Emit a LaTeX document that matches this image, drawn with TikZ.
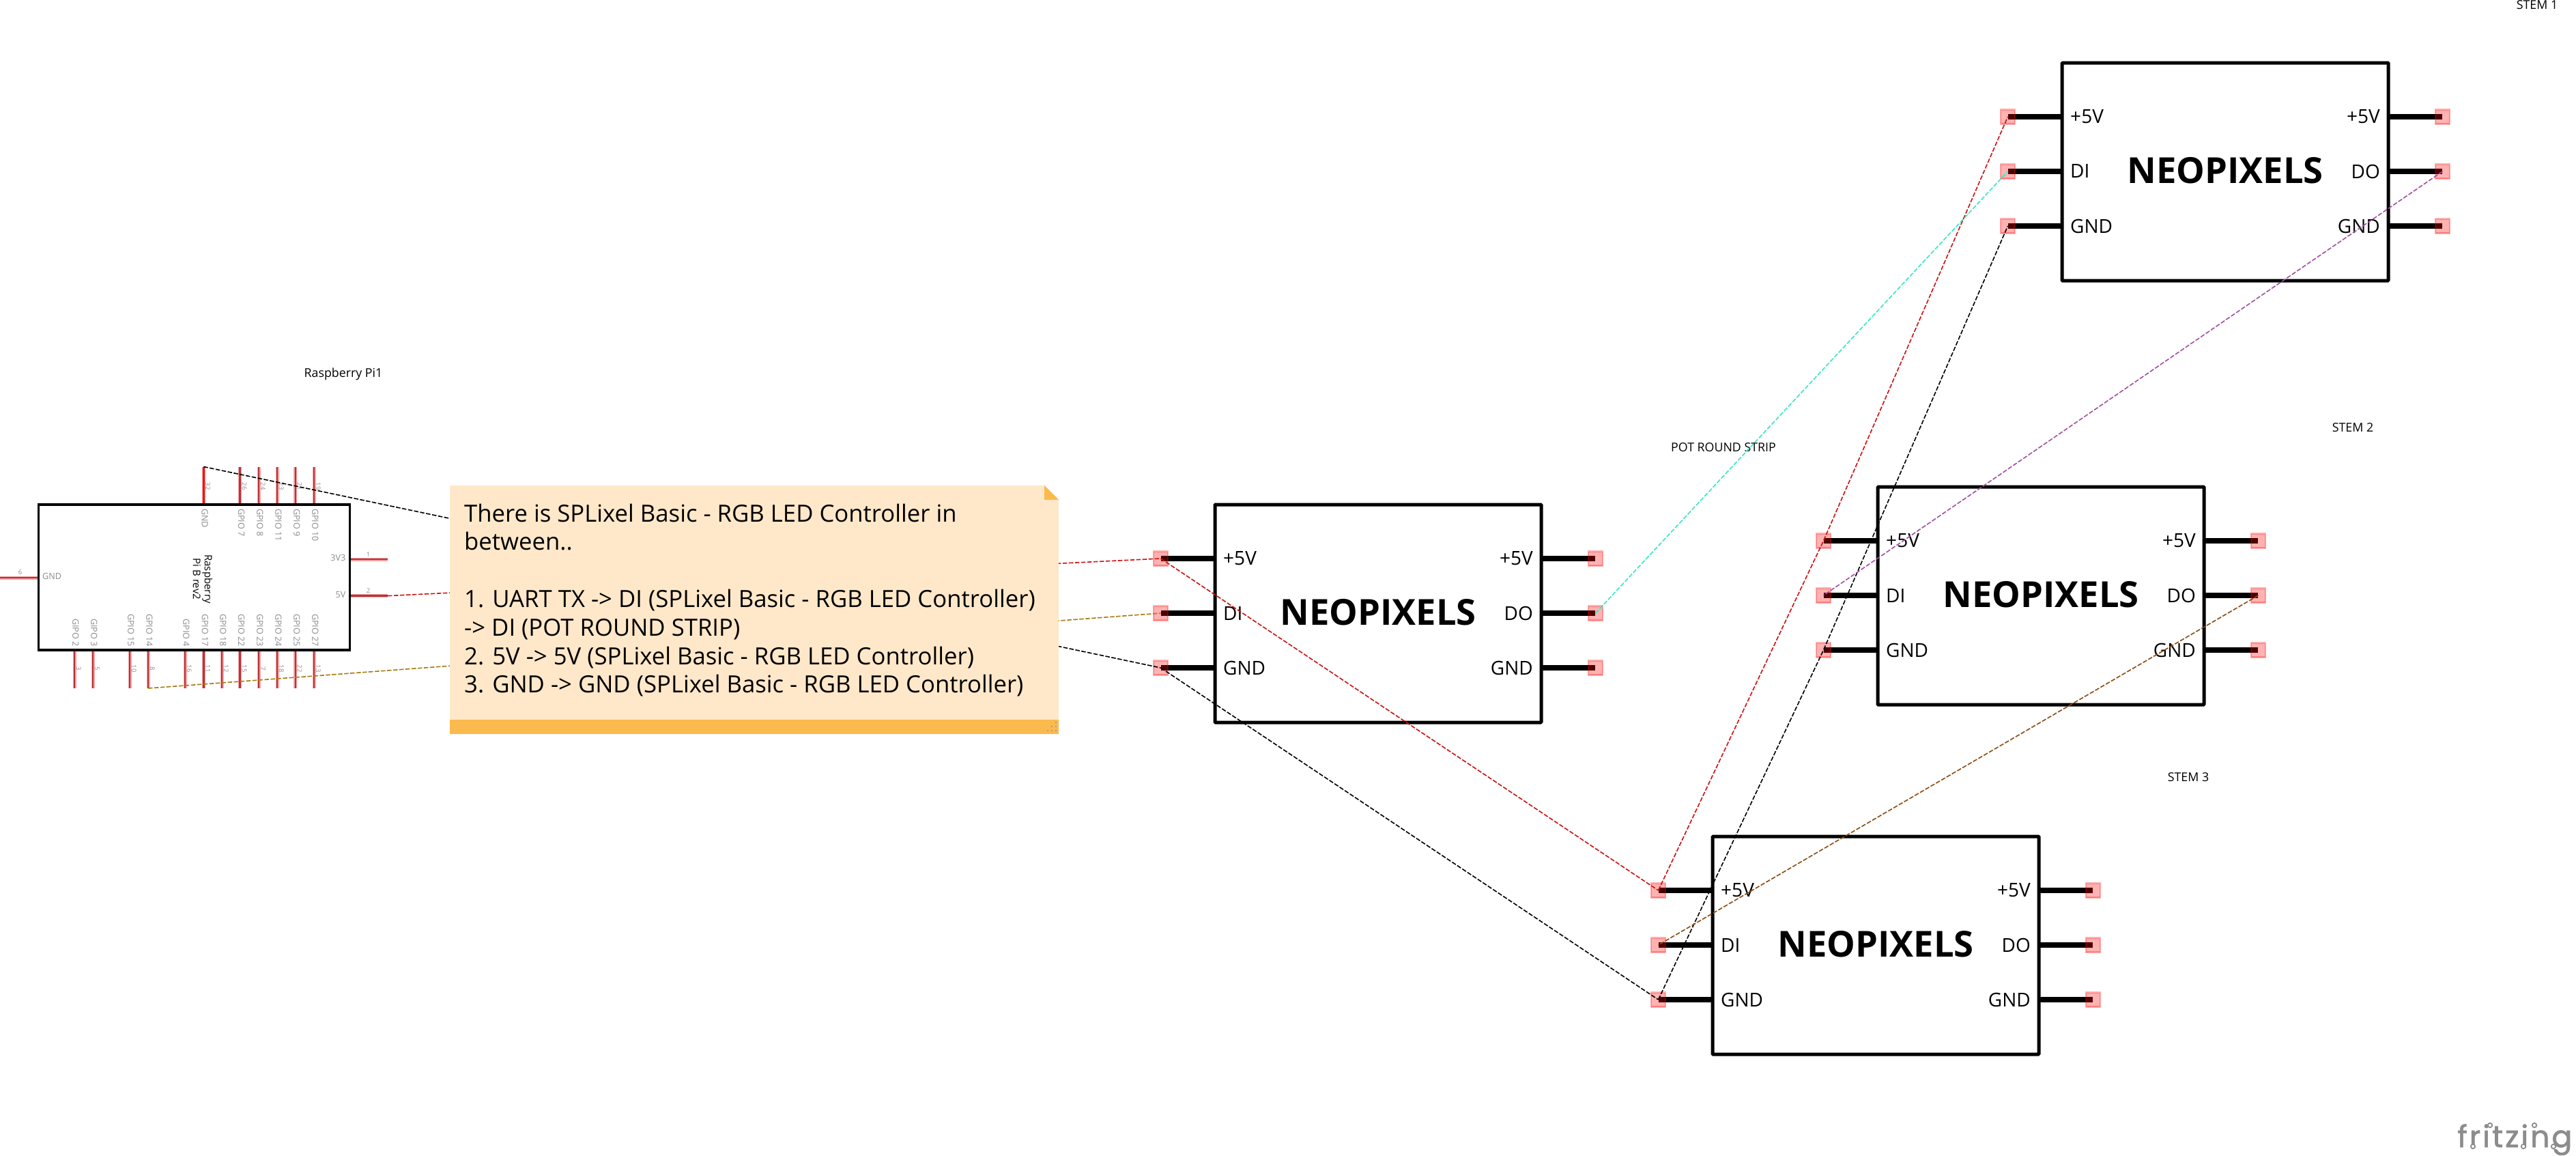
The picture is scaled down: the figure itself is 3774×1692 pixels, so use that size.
\documentclass[tikz,border=0pt]{standalone}
\usepackage{fontspec}
\setmainfont{Open Sans}
\newfontfamily\logofont[LetterSpace=7,FakeBold=1.6]{Poppins}
\definecolor{paddraw}{HTML}{FF0000}
\definecolor{pinhalo}{HTML}{F5A3A3}
\definecolor{pincore}{HTML}{B5343A}
\definecolor{pinred}{HTML}{F01414}
\definecolor{pilabel}{HTML}{8C8C8C}
\definecolor{notefill}{HTML}{FFE8C9}
\definecolor{notebar}{HTML}{FBBA4E}
\definecolor{wirered}{HTML}{CC1111}
\definecolor{wiregold}{HTML}{A67A10}
\definecolor{wirecyan}{HTML}{35E8C4}
\definecolor{wirepurple}{HTML}{A050A0}
\definecolor{wirebrown}{HTML}{8A4A10}
\tikzset{
  x=1pt,y=-1pt,
  padbox/.style={draw=paddraw,draw opacity=.3,fill=paddraw,fill opacity=.3,line width=2.4pt,minimum size=21pt,inner sep=0pt,outer sep=0pt},
  neobox/.style={draw=black,line width=5pt,rounded corners=1pt,minimum width=478pt,minimum height=319pt,inner sep=0pt,outer sep=0pt,anchor=north west},
  neopin/.style={line width=8.5pt,black},
  neotitle/.style={font=\fontsize{52.5}{60}\selectfont\bfseries,inner sep=0pt},
  neolabel/.style={font=\fontsize{28}{32}\selectfont,inner sep=0pt},
  halo/.style={line width=5pt,pinhalo},
  core/.style={line width=2.6pt,pincore},
  gpiolabel/.style={font=\fontsize{12.6}{14}\selectfont,text=pilabel,inner sep=0pt,rotate=-90},
  pinnum/.style={font=\fontsize{9.5}{11}\selectfont,text=pilabel,inner sep=0pt},
  caption/.style={font=\fontsize{17.8}{20}\selectfont,inner sep=0pt},
  wire/.style={line width=1.6pt,dash pattern=on 6.5pt off 2.5pt},
  logodot/.style={draw=pilabel,fill=white,line width=1.8pt},
}
\newcommand{\neoblock}[3]{%
  \draw[neopin] ({#2},{#3+79}) -- ({#2-79},{#3+79});
  \draw[neopin] ({#2},{#3+159}) -- ({#2-79},{#3+159});
  \draw[neopin] ({#2},{#3+239}) -- ({#2-79},{#3+239});
  \draw[neopin] ({#2+478},{#3+79}) -- ({#2+557},{#3+79});
  \draw[neopin] ({#2+478},{#3+159}) -- ({#2+557},{#3+159});
  \draw[neopin] ({#2+478},{#3+239}) -- ({#2+557},{#3+239});
  \node[neobox,fill=white] (#1box) at ({#2},{#3}) {};
  \node[padbox] (#1vl) at ({#2-79-0.5},{#3+79}) {};
  \node[padbox] (#1il) at ({#2-79-0.5},{#3+159}) {};
  \node[padbox] (#1gl) at ({#2-79-0.5},{#3+239}) {};
  \node[padbox] (#1vr) at ({#2+557+0.5},{#3+79}) {};
  \node[padbox] (#1ir) at ({#2+557+0.5},{#3+159}) {};
  \node[padbox] (#1gr) at ({#2+557+0.5},{#3+239}) {};
  \node[neotitle] (#1title) at ({#2+239},{#3+158}) {NEOPIXELS};
  \node[neolabel,anchor=west] (#1a) at ({#2+12},{#3+79}) {+5V};
  \node[neolabel,anchor=west] (#1b) at ({#2+12},{#3+159}) {DI};
  \node[neolabel,anchor=west] (#1c) at ({#2+12},{#3+239}) {GND};
  \node[neolabel,anchor=east] (#1d) at ({#2+466},{#3+79}) {+5V};
  \node[neolabel,anchor=east] (#1e) at ({#2+466},{#3+159}) {DO};
  \node[neolabel,anchor=east] (#1f) at ({#2+466},{#3+239}) {GND};
}
\begin{document}
\begin{tikzpicture}
\useasboundingbox (0,0) rectangle (3774,1692);
\fill[white] (0,0) rectangle (3774,1692);

% Raspberry Pi
\node[draw=black,line width=3.5pt,minimum width=456pt,minimum height=213pt,inner sep=0pt,outer sep=0pt,anchor=north west] (pi) at (56.5,739) {};
\node[rotate=-90,align=center,inner sep=0pt,font=\fontsize{15}{17}\selectfont] (pititle) at (297,848) {Raspberry\\Pi B rev2};
\coordinate (pgnd) at (298.3,683.5);
\draw[line width=5pt,pinhalo] (pgnd) -- (298.3,737);
\draw[line width=2.6pt,pinred] (pgnd) -- (298.3,737);
\node[pinnum,rotate=-90] (n32) at (304.5,712) {32};
\node[gpiolabel,anchor=west] (lgnd) at (300,745) {GND};
\foreach \px/\lab/\nm in {351.7/GPIO 7/26,379/GPIO 8/24,406/GPIO 11/23,432.8/GPIO 9/21,460/GPIO 10/19}{
  \draw[halo] (\px,683.5) -- (\px,737);
  \draw[core] (\px,683.5) -- (\px,737);
  \node[pinnum,rotate=-90] (nt\nm) at (\px+6.2,712) {\nm};
  \node[gpiolabel,anchor=west] (lt\nm) at (\px+2,745) {\lab};
}
\foreach \px/\lab/\nm in {109/GIPO 2/3,136/GIPO 3/5,190/GPIO 15/10,217/GPIO 14/8,271/GPIO 4/16,298.3/GPIO 17/11,325/GPIO 18/12,351.7/GPIO 22/15,379/GPIO 23/7,406/GPIO 24/18,432.8/GPIO 25/22,460/GPIO 27/13}{
  \draw[halo] (\px,954) -- (\px,1008);
  \draw[core] (\px,954) -- (\px,1008);
  \node[pinnum,rotate=-90] (nb\nm) at (\px+6.2,979) {\nm};
  \node[gpiolabel,anchor=east] (lb\nm) at (\px+2,947) {\lab};
}
\coordinate (p14) at (217,1008);
\draw[halo] (0,846) -- (55,846);
\draw[core] (0,846) -- (55,846);
\node[pinnum] (n6) at (29.5,838.5) {6};
\node[font=\fontsize{12.6}{14}\selectfont,text=pilabel,inner sep=0pt,anchor=west] (lg6) at (62,844) {GND};
\draw[halo] (514,819) -- (568,819);
\draw[core] (514,819) -- (568,819);
\node[pinnum] (n1) at (539.5,811.6) {1};
\node[font=\fontsize{12.6}{14}\selectfont,text=pilabel,inner sep=0pt,anchor=east] (l3v3) at (506.5,817) {3V3};
\coordinate (p5v) at (568,872.6);
\draw[halo] (514,872.6) -- (p5v);
\draw[core] (514,872.6) -- (p5v);
\node[pinnum] (n2) at (539.5,865) {2};
\node[font=\fontsize{12.6}{14}\selectfont,text=pilabel,inner sep=0pt,anchor=east] (l5v) at (506.5,871) {5V};
\node[caption] (capPi) at (503,548) {Raspberry Pi1};

% NeoPixel blocks
\neoblock{a}{1780}{739}
\neoblock{b}{3021}{92}
\neoblock{c}{2751}{713}
\neoblock{d}{2509}{1225}

% Captions
\node[caption] (cap1) at (3717,7) {STEM 1};
\node[caption] (cap2) at (3447,626) {STEM 2};
\node[caption] (cap3) at (3206,1138) {STEM 3};
\node[caption] (capS) at (2525,655) {POT ROUND STRIP};

% Wires
\draw[wire,black] (pgnd) -- (agl.center);
\draw[wire,wirered] (p5v) -- (avl.center);
\draw[wire,wiregold] (p14) -- (ail.center);
\draw[wire,wirered] (avl.center) -- (dvl.center);
\draw[wire,black] (agl.center) -- (dgl.center);
\draw[wire,wirered] (dvl.center) -- (cvl.center) -- (bvl.center);
\draw[wire,black] (dgl.center) -- (cgl.center) -- (bgl.center);
\draw[wire,wirecyan] (air.center) -- (bil.center);
\draw[wire,wirepurple] (bir.center) -- (cil.center);
\draw[wire,wirebrown] (cir.center) -- (dil.center);

% Note
\fill[notefill] (659,711) -- (1530,711) -- (1551,732) -- (1551,1075) -- (659,1075) -- cycle;
\fill[notebar] (659,1054) rectangle (1551,1075);
\fill[notebar] (1530,711) -- (1551,732) -- (1530,732) -- cycle;
\foreach \gx/\gy in {1547/1058,1547/1064,1547/1070,1541/1064,1541/1070,1535/1070}{
  \fill[white!55!notebar!70!black] (\gx-1,\gy-1) rectangle (\gx+1,\gy+1);
}
\node[anchor=north west,align=left,inner sep=0pt,font=\fontsize{34.7}{41.8}\selectfont] (note) at (680,737.5) {There is SPLixel Basic - RGB LED Controller in\\between..\\\mbox{}\\1. UART TX -> DI (SPLixel Basic - RGB LED Controller)\\-> DI (POT ROUND STRIP)\\2. 5V -> 5V (SPLixel Basic - RGB LED Controller)\\3. GND -> GND (SPLixel Basic - RGB LED Controller)};

% Logo
\node[anchor=base west,inner sep=0pt,text=pilabel,font=\logofont\fontsize{44}{46}\selectfont] (logo) at (3600,1680) {fritzing};
\foreach \lx/\ly in {3648/1648,3713/1648,3623/1679,3697/1679,3741/1679}{
  \draw[logodot] (\lx,\ly) circle (3.2pt);
}
\end{tikzpicture}
\end{document}
